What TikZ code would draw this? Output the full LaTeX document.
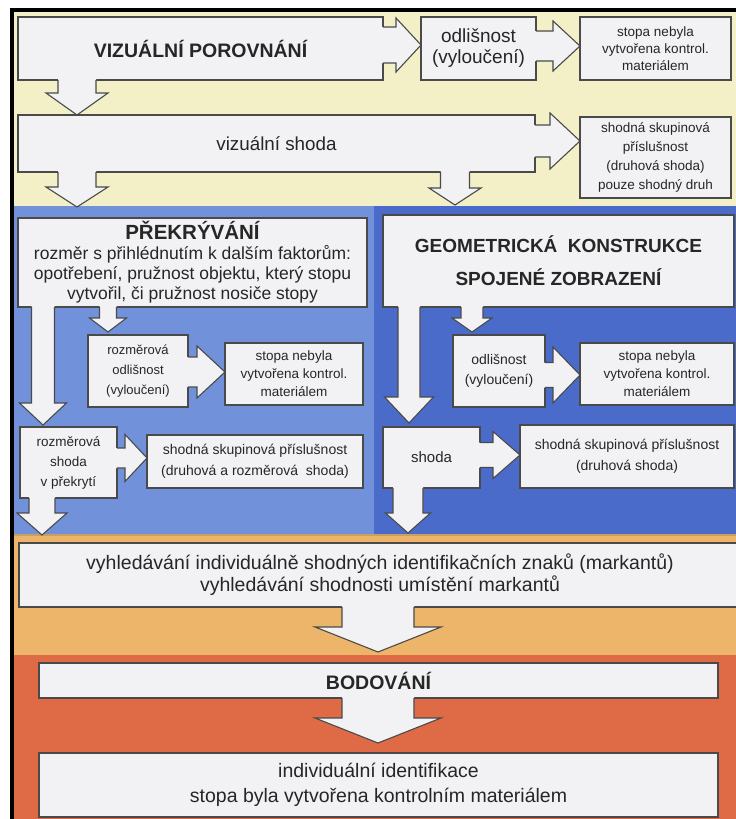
\documentclass[tikz,border=0pt]{standalone}
\usepackage{fontspec}
\setmainfont{Liberation Sans}
\usetikzlibrary{calc}
\definecolor{yel}{HTML}{F3EFC6}
\definecolor{blueL}{HTML}{7192DA}
\definecolor{blueR}{HTML}{4B6BCB}
\definecolor{orL}{HTML}{EDB56A}
\definecolor{orR}{HTML}{DE6B45}
\definecolor{boxfill}{HTML}{F2F2F4}
\definecolor{boxline}{HTML}{4A4A4A}
\definecolor{txt}{HTML}{262626}
\definecolor{seam}{HTML}{C9A062}
\newcommand\fs[2]{\fontsize{#1}{#2}\selectfont}
% down block arrow: from, to, xc, shaft hw, head hw, head length, gap
\newcommand\darr[7]{%
  \fill[boxfill] let \p1=(#1.south), \p2=(#2.north) in
    (#3pt-#4pt,\y1+1pt) -- (#3pt-#4pt,\y2+#7pt+#6pt) -- (#3pt-#5pt,\y2+#7pt+#6pt) -- (#3pt,\y2+#7pt)
    -- (#3pt+#5pt,\y2+#7pt+#6pt) -- (#3pt+#4pt,\y2+#7pt+#6pt) -- (#3pt+#4pt,\y1+1pt) -- cycle;
  \draw[arrline] let \p1=(#1.south), \p2=(#2.north) in
    (#3pt-#4pt,\y1) -- (#3pt-#4pt,\y2+#7pt+#6pt) -- (#3pt-#5pt,\y2+#7pt+#6pt) -- (#3pt,\y2+#7pt)
    -- (#3pt+#5pt,\y2+#7pt+#6pt) -- (#3pt+#4pt,\y2+#7pt+#6pt) -- (#3pt+#4pt,\y1);
}
% right block arrow: from, to, yc (down positive), shaft hw, head hw, head length
\newcommand\rarr[6]{%
  \fill[boxfill] let \p1=(#1.east), \p2=(#2.west) in
    (\x1-1pt,-#3pt+#4pt) -- (\x2-#6pt,-#3pt+#4pt) -- (\x2-#6pt,-#3pt+#5pt) -- (\x2,-#3pt)
    -- (\x2-#6pt,-#3pt-#5pt) -- (\x2-#6pt,-#3pt-#4pt) -- (\x1-1pt,-#3pt-#4pt) -- cycle;
  \draw[arrline] let \p1=(#1.east), \p2=(#2.west) in
    (\x1,-#3pt+#4pt) -- (\x2-#6pt,-#3pt+#4pt) -- (\x2-#6pt,-#3pt+#5pt) -- (\x2,-#3pt)
    -- (\x2-#6pt,-#3pt-#5pt) -- (\x2-#6pt,-#3pt-#4pt) -- (\x1,-#3pt-#4pt);
}
\begin{document}
\begin{tikzpicture}[x=1pt,y=-1pt,
  box/.style={draw=boxline, fill=boxfill, line width=1.1pt, inner sep=0pt, outer sep=0pt,
    align=center, text=txt},
  arrline/.style={draw=boxline, line width=1.1pt, line join=miter}]
\useasboundingbox (0,0) rectangle (736,819);
\clip (0,0) rectangle (736,819);
\fill[white] (0,0) rectangle (736,819);
% bands
\fill[yel] (12,10) rectangle (736,206);
\fill[blueL] (12,206) rectangle (374,535);
\fill[blueR] (374,206) rectangle (736,535);
\fill[orL] (12,535) rectangle (736,655);
\fill[orR] (12,655) rectangle (736,819);
\draw[seam, line width=1.5pt] (12,535) -- (736,535);
% frame
\draw[black, line width=3.5pt] (12,819) -- (12,10) -- (736,10);

% boxes
\node[box, minimum width=365pt, minimum height=63pt, font=\bfseries\fs{19.5}{22}] (viz) at (200.5,48.5) {VIZUÁLNÍ POROVNÁNÍ};
\node[box, minimum width=115pt, minimum height=63pt, font=\fs{19}{21}] (odlA) at (478.5,48.5) {odlišnost\\(vyloučení)};
\node[box, minimum width=151pt, minimum height=63pt, font=\fs{13.5}{17}] (stopaA) at (655.5,48.5) {stopa nebyla\\vytvořena kontrol.\\materiálem};
\node[box, minimum width=517pt, minimum height=57pt, font=\fs{18.8}{21}] (vshoda) at (276.5,143.5) {vizuální shoda};
\node[box, minimum width=151pt, minimum height=81pt, font=\fs{13.5}{19}] (shodnaA) at (655.5,157.5) {shodná skupinová\\příslušnost\\(druhová shoda)\\pouze shodný druh};

\node[box, minimum width=349pt, minimum height=89pt, font=\fs{17.5}{20}] (prekr) at (192.5,262.5)
  {{\bfseries\fs{20.5}{20}PŘEKRÝVÁNÍ}\\rozměr s přihlédnutím k dalším faktorům:\\opotřebení, pružnost objektu, který stopu\\vytvořil, či pružnost nosiče stopy};
\node[box, minimum width=351pt, minimum height=92pt, font=\bfseries\fs{19}{33}] (geom) at (558.5,261)
  {GEOMETRICKÁ\ \ KONSTRUKCE\\SPOJENÉ ZOBRAZENÍ};

\node[box, minimum width=100pt, minimum height=72pt, font=\fs{13}{20}] (rozodl) at (138,371) {rozměrová\\odlišnost\\(vyloučení)};
\node[box, minimum width=138pt, minimum height=62pt, font=\fs{13.5}{18}] (stopaB) at (294,374) {stopa nebyla\\vytvořena kontrol.\\materiálem};
\node[box, minimum width=92pt, minimum height=72pt, font=\fs{14}{20}] (odlB) at (499,371) {odlišnost\\(vyloučení)};
\node[box, minimum width=154pt, minimum height=62pt, font=\fs{13.5}{18}] (stopaC) at (657,374) {stopa nebyla\\vytvořena kontrol.\\materiálem};

\node[box, minimum width=97pt, minimum height=71pt, font=\fs{13.5}{20}] (rshoda) at (68.5,462.5) {rozměrová\\shoda\\v překrytí};
\node[box, minimum width=216pt, minimum height=53pt, font=\fs{14}{21}] (shodnaB) at (255,461.5) {shodná skupinová příslušnost\\(druhová a rozměrová\ \ shoda)};
\node[box, minimum width=97pt, minimum height=61pt, font=\fs{15}{18}] (shoda) at (431.5,457.5) {shoda};
\node[box, minimum width=214pt, minimum height=63pt, font=\fs{14}{21}] (shodnaC) at (627,456.5) {shodná skupinová příslušnost\\(druhová shoda)};

\node[box, minimum width=722pt, minimum height=64pt, font=\fs{19.5}{22}] (vyhl) at (380,575)
  {vyhledávání individuálně shodných identifikačních znaků (markantů)\\vyhledávání shodnosti umístění markantů};
\node[box, minimum width=679pt, minimum height=35pt, font=\bfseries\fs{19.5}{20}] (bod) at (378.5,680.5) {BODOVÁNÍ};
\node[box, minimum width=679pt, minimum height=64pt, font=\fs{19.5}{25}] (final) at (378.5,785)
  {individuální identifikace\\stopa byla vytvořena kontrolním materiálem};

% block arrows
\darr{viz}{vshoda}{77}{19}{31}{22}{0}
\darr{vshoda}{prekr}{77}{19}{31}{20}{11}
\darr{vshoda}{geom}{455}{14.5}{26}{17}{10}
\darr{prekr}{rshoda}{43}{11.5}{23.5}{22}{2}
\darr{prekr}{rozodl}{108}{8.5}{18.5}{14}{3}
\darr{rshoda}{vyhl}{42}{13}{25}{22}{8}
\darr{geom}{shoda}{409}{11}{24.5}{26}{4}
\darr{geom}{odlB}{472}{11}{20}{14}{3}
\darr{shoda}{vyhl}{408}{15}{22.5}{20}{10}
\darr{vyhl}{bod}{378}{36}{63}{25}{11}
\darr{bod}{final}{378}{36}{63}{25}{10}

\rarr{viz}{odlA}{45}{18}{27}{25}
\rarr{odlA}{stopaA}{46}{15}{25}{27}
\rarr{vshoda}{shodnaA}{141}{16}{28}{30}
\rarr{rozodl}{stopaB}{372}{15}{26}{28}
\rarr{rshoda}{shodnaB}{458}{10}{23.5}{22}
\rarr{odlB}{stopaC}{375}{12.5}{28}{27}
\rarr{shoda}{shodnaC}{455}{12.5}{23.5}{27}
\end{tikzpicture}
\end{document}
